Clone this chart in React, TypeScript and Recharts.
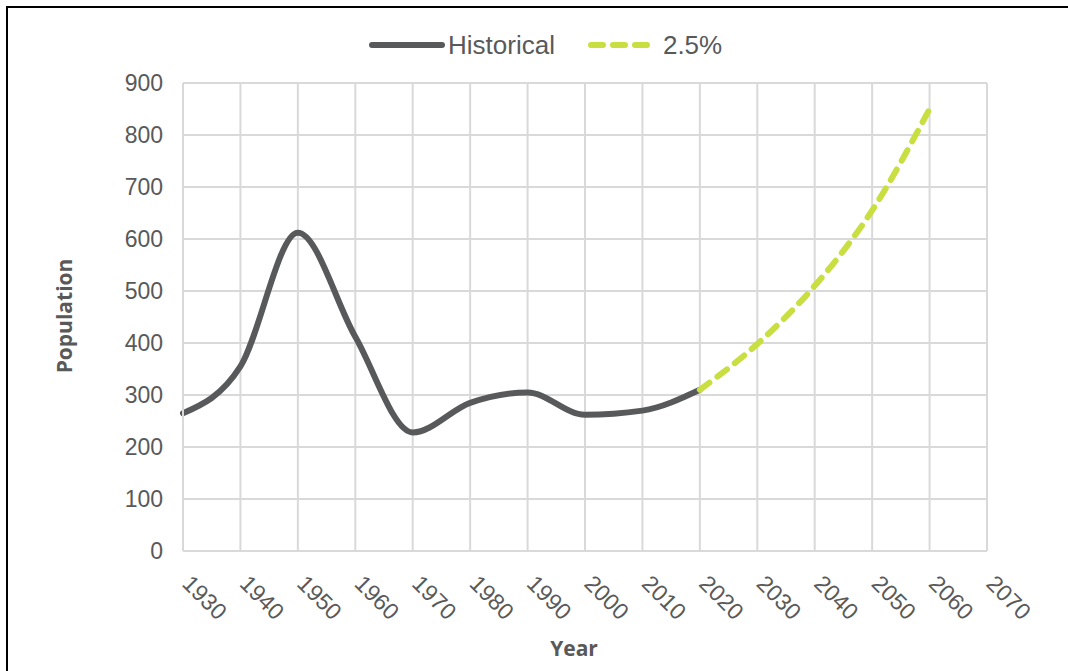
import React from "react";
import { CartesianGrid, Label, Line, LineChart, XAxis, YAxis } from "recharts";

// census years and counts
const historicalYears = [1930, 1940, 1950, 1960, 1970, 1980, 1990, 2000, 2010, 2020];
const historicalValues = [265, 355, 612, 412, 228, 285, 305, 262, 270, 310];

// 2.5% growth projection
const projectionYears = [2020, 2030, 2040, 2050, 2060];
const projectionValues = [310, 398, 510, 655, 850];

const yearTicks = [1930, 1940, 1950, 1960, 1970, 1980, 1990, 2000, 2010, 2020, 2030, 2040, 2050, 2060, 2070];
const popTicks = [0, 100, 200, 300, 400, 500, 600, 700, 800, 900];

const seriesNames = { historical: "Historical", projection: "2.5%" };

const HIST_COLOR = "#58595B";
const PROJ_COLOR = "#C9DE40";
const TEXT_COLOR = "#595959";
const GRID_COLOR = "#D9D9D9";
const TICK_FONT = "'Liberation Sans', Arial, sans-serif";
const TITLE_FONT = "'Open Sans', sans-serif";

const allYears = Array.from(new Set([...historicalYears, ...projectionYears])).sort((a, b) => a - b);
const data = allYears.map((year) => {
  const hi = historicalYears.indexOf(year);
  const pi = projectionYears.indexOf(year);
  return {
    year,
    historical: hi >= 0 ? historicalValues[hi] : null,
    projection: pi >= 0 ? projectionValues[pi] : null,
  };
});

function YearTick(props: any) {
  const { x, y, payload } = props;
  const tx = x - 2;
  const ty = y + 34;
  return (
    <text
      x={tx}
      y={ty}
      transform={`rotate(45 ${tx} ${ty})`}
      fontSize={23}
      fill={TEXT_COLOR}
      fontFamily={TICK_FONT}
      textAnchor="start"
    >
      {payload.value}
    </text>
  );
}

function ChartLegend() {
  return (
    <div
      style={{
        position: "absolute",
        left: 368,
        top: 26,
        height: 38,
        display: "flex",
        alignItems: "center",
        fontFamily: TICK_FONT,
        fontSize: 26,
        color: TEXT_COLOR,
      }}
    >
      <svg width={78} height={12}>
        <line x1={4} y1={6} x2={74} y2={6} stroke={HIST_COLOR} strokeWidth={6} strokeLinecap="round" />
      </svg>
      <span style={{ marginLeft: 2 }}>{seriesNames.historical}</span>
      <svg width={66} height={12} style={{ marginLeft: 32 }}>
        <line
          x1={4}
          y1={6}
          x2={64}
          y2={6}
          stroke={PROJ_COLOR}
          strokeWidth={6}
          strokeLinecap="round"
          strokeDasharray="12 10"
        />
      </svg>
      <span style={{ marginLeft: 10 }}>{seriesNames.projection}</span>
    </div>
  );
}

export default function App() {
  return (
    <div
      style={{
        position: "absolute",
        left: 0,
        top: 0,
        width: 1068,
        height: 671,
        background: "#fff",
        overflow: "hidden",
      }}
    >
      <div
        style={{
          position: "absolute",
          left: 6,
          top: 6,
          width: 1100,
          height: 700,
          border: "2.5px solid #000",
        }}
      />
      <LineChart
        width={1068}
        height={671}
        data={data}
        margin={{ top: 83, right: 81, bottom: 0, left: 0 }}
        style={{ position: "absolute", left: 0, top: 0 }}
      >
        <CartesianGrid stroke={GRID_COLOR} strokeWidth={2} />
        <XAxis
          dataKey="year"
          type="number"
          domain={[1930, 2070]}
          ticks={yearTicks}
          interval={0}
          height={120}
          tickSize={0}
          tickMargin={0}
          tickLine={false}
          axisLine={{ stroke: GRID_COLOR, strokeWidth: 2 }}
          tick={<YearTick />}
        >
          <Label
            content={() => (
              <text
                x={574}
                y={648}
                textAnchor="middle"
                dominantBaseline="central"
                fontFamily={TITLE_FONT}
                fontWeight={700}
                fontSize={21}
                fill={TEXT_COLOR}
              >
                Year
              </text>
            )}
          />
        </XAxis>
        <YAxis
          type="number"
          domain={[0, 900]}
          ticks={popTicks}
          interval={0}
          width={183}
          tickSize={0}
          tickMargin={20}
          tickLine={false}
          axisLine={{ stroke: GRID_COLOR, strokeWidth: 2 }}
          tick={{ fontSize: 23, fill: TEXT_COLOR, fontFamily: TICK_FONT }}
        >
          <Label
            content={() => (
              <text
                x={64}
                y={316}
                transform="rotate(-90 64 316)"
                textAnchor="middle"
                dominantBaseline="central"
                fontFamily={TITLE_FONT}
                fontWeight={700}
                fontSize={21}
                fill={TEXT_COLOR}
              >
                Population
              </text>
            )}
          />
        </YAxis>
        <Line
          dataKey="historical"
          name={seriesNames.historical}
          type="monotone"
          stroke={HIST_COLOR}
          strokeWidth={6}
          strokeLinecap="round"
          dot={false}
          activeDot={false}
          connectNulls={false}
          isAnimationActive={false}
        />
        <Line
          dataKey="projection"
          name={seriesNames.projection}
          type="monotone"
          stroke={PROJ_COLOR}
          strokeWidth={6}
          strokeLinecap="round"
          strokeDasharray="12 10"
          dot={false}
          activeDot={false}
          connectNulls={false}
          isAnimationActive={false}
        />
      </LineChart>
      <ChartLegend />
    </div>
  );
}
